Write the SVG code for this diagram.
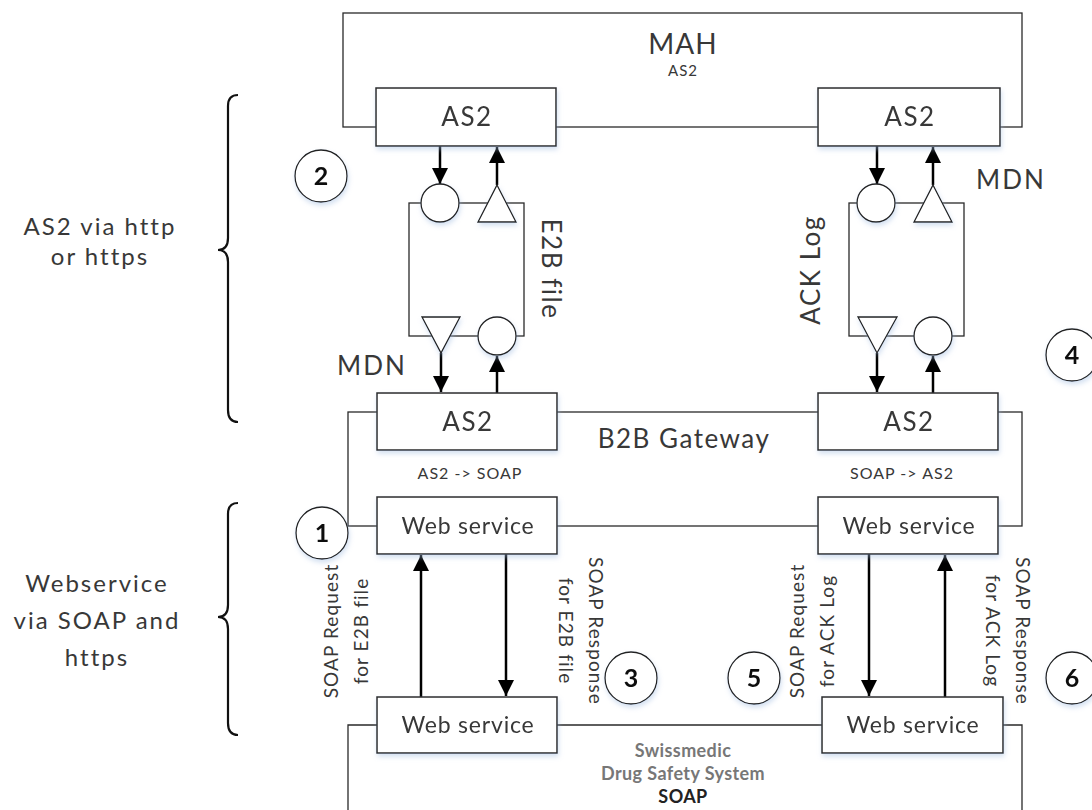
<svg xmlns="http://www.w3.org/2000/svg" width="1092" height="810" viewBox="0 0 1092 810">
<style>
.frame{fill:none;stroke:#2a2a2a;stroke-width:1.3}
.box{fill:#fff;stroke:#2a2a2a;stroke-width:1.5}
.shape{fill:#fff;stroke:#222;stroke-width:1.3}
.num{fill:#fff;stroke:#222;stroke-width:1.3}
.arr{fill:none;stroke:#000;stroke-width:2.5}
.brace{fill:none;stroke:#111;stroke-width:2.2}
text{font-family:Lato,"Open Sans","DejaVu Sans",sans-serif;fill:#383838}
.big{font-size:26px;letter-spacing:1.5px}
.side{font-size:24px;letter-spacing:2px}
.ws{font-size:23px;letter-spacing:0.8px}
.rot{font-size:19px;letter-spacing:1.1px}
.small{font-size:16px;letter-spacing:1px}
.numt{font-size:25px;font-weight:bold;fill:#111}
.sw{font-size:18px;font-weight:bold;fill:#777;letter-spacing:0.4px}
</style>
<defs>
<marker id="ah" markerUnits="userSpaceOnUse" markerWidth="16" markerHeight="18" viewBox="0 0 16 18" refX="16" refY="8" orient="auto">
<path d="M0,0 L16,8 L0,16 Z" fill="#000"/>
</marker>
<filter id="sh" x="-20%" y="-20%" width="140%" height="150%">
<feDropShadow dx="1" dy="3" stdDeviation="2.5" flood-color="#9fbbe0" flood-opacity="0.45"/>
</filter>
</defs>

<g id="frames">
<rect class="frame" x="343" y="13" width="679" height="114"/>
<rect class="frame" x="348" y="412" width="674" height="114"/>
<path class="frame" d="M348,812 V725 H1022 V812"/>
</g>

<g id="mah-label">
<text x="683" y="54" text-anchor="middle" style="font-size:28px;letter-spacing:1px">MAH</text>
<text class="small" x="683" y="76" text-anchor="middle" style="font-size:15px">AS2</text>
</g>

<g id="loops">
<rect class="frame" x="409" y="203" width="115" height="133"/>
<rect class="frame" x="849" y="203" width="115" height="133"/>
</g>

<g id="connectors">
<line class="arr" x1="440" y1="146" x2="440" y2="184" marker-end="url(#ah)"/>
<line class="arr" x1="497" y1="185" x2="497" y2="147" marker-end="url(#ah)"/>
<line class="arr" x1="441" y1="353" x2="441" y2="392" marker-end="url(#ah)"/>
<line class="arr" x1="497" y1="393" x2="497" y2="356" marker-end="url(#ah)"/>
<line class="arr" x1="877" y1="146" x2="877" y2="184" marker-end="url(#ah)"/>
<line class="arr" x1="933" y1="185" x2="933" y2="147" marker-end="url(#ah)"/>
<line class="arr" x1="877" y1="353" x2="877" y2="392" marker-end="url(#ah)"/>
<line class="arr" x1="933" y1="393" x2="933" y2="356" marker-end="url(#ah)"/>
<line class="arr" x1="421" y1="697" x2="421" y2="555" marker-end="url(#ah)"/>
<line class="arr" x1="506" y1="554" x2="506" y2="696" marker-end="url(#ah)"/>
<line class="arr" x1="869" y1="554" x2="869" y2="696" marker-end="url(#ah)"/>
<line class="arr" x1="945" y1="697" x2="945" y2="555" marker-end="url(#ah)"/>
</g>

<g id="loop-shapes" filter="url(#sh)">
<circle class="shape" cx="440" cy="203" r="19"/>
<path class="shape" d="M497,185 L516,222 L478,222 Z"/>
<path class="shape" d="M422,317 L460,317 L441,353 Z"/>
<circle class="shape" cx="497" cy="336" r="19"/>
<circle class="shape" cx="876" cy="203" r="19"/>
<path class="shape" d="M933,185 L952,222 L914,222 Z"/>
<path class="shape" d="M858,317 L897,317 L877,353 Z"/>
<circle class="shape" cx="933" cy="336" r="19"/>
</g>

<g id="as2-mah-left" filter="url(#sh)">
<rect class="box" x="376" y="88" width="180" height="58"/>
<text class="big" x="467" y="126" text-anchor="middle">AS2</text>
</g>
<g id="as2-mah-right" filter="url(#sh)">
<rect class="box" x="818" y="88" width="182" height="58"/>
<text class="big" x="910" y="126" text-anchor="middle">AS2</text>
</g>
<g id="as2-gw-left" filter="url(#sh)">
<rect class="box" x="377" y="393" width="180" height="57"/>
<text class="big" x="468" y="431" text-anchor="middle">AS2</text>
</g>
<g id="as2-gw-right" filter="url(#sh)">
<rect class="box" x="818" y="393" width="180" height="57"/>
<text class="big" x="909" y="431" text-anchor="middle">AS2</text>
</g>
<g id="ws-gw-left" filter="url(#sh)">
<rect class="box" x="377" y="497" width="180" height="57"/>
<text class="ws" x="468" y="534" text-anchor="middle">Web service</text>
</g>
<g id="ws-gw-right" filter="url(#sh)">
<rect class="box" x="818" y="497" width="180" height="57"/>
<text class="ws" x="909" y="534" text-anchor="middle">Web service</text>
</g>
<g id="ws-sm-left" filter="url(#sh)">
<rect class="box" x="377" y="697" width="180" height="56"/>
<text class="ws" x="468" y="733" text-anchor="middle">Web service</text>
</g>
<g id="ws-sm-right" filter="url(#sh)">
<rect class="box" x="822" y="697" width="181" height="56"/>
<text class="ws" x="913" y="733" text-anchor="middle">Web service</text>
</g>

<g id="labels">
<text class="big" x="684" y="448" text-anchor="middle">B2B Gateway</text>
<text class="small" x="470" y="479" text-anchor="middle">AS2 -&gt; SOAP</text>
<text class="small" x="902" y="479" text-anchor="middle">SOAP -&gt; AS2</text>
<text class="big" x="372" y="375" text-anchor="middle" style="letter-spacing:2px">MDN</text>
<text class="big" x="1011" y="189" text-anchor="middle" style="letter-spacing:2px">MDN</text>
<text class="big" transform="translate(552,269) rotate(90)" text-anchor="middle" dominant-baseline="central">E2B file</text>
<text class="big" transform="translate(810,270) rotate(-90)" text-anchor="middle" dominant-baseline="central">ACK Log</text>
<g transform="translate(347,631) rotate(-90)">
<text class="rot" x="0" y="-9" text-anchor="middle">SOAP Request</text>
<text class="rot" x="0" y="21" text-anchor="middle">for E2B file</text>
</g>
<g transform="translate(580,631) rotate(90)">
<text class="rot" x="0" y="-9" text-anchor="middle">SOAP Response</text>
<text class="rot" x="0" y="21" text-anchor="middle">for E2B file</text>
</g>
<g transform="translate(813,631) rotate(-90)">
<text class="rot" x="0" y="-9" text-anchor="middle">SOAP Request</text>
<text class="rot" x="0" y="21" text-anchor="middle">for ACK Log</text>
</g>
<g transform="translate(1007,631) rotate(90)">
<text class="rot" x="0" y="-9" text-anchor="middle">SOAP Response</text>
<text class="rot" x="0" y="21" text-anchor="middle">for ACK Log</text>
</g>
<text class="sw" x="683" y="757" text-anchor="middle">Swissmedic</text>
<text class="sw" x="683" y="780" text-anchor="middle">Drug Safety System</text>
<text class="sw" x="683" y="803" text-anchor="middle" style="fill:#222">SOAP</text>
</g>

<g id="braces">
<path class="brace" d="M238,95 Q228,95 228,106 V238 Q228,250 218,250 Q228,250 228,262 V410 Q228,422 238,422"/>
<path class="brace" d="M238,503 Q228,503 228,514 V605 Q228,617 218,617 Q228,617 228,629 V723 Q228,735 238,735"/>
<text class="side" x="100" y="235" text-anchor="middle">AS2 via http</text>
<text class="side" x="100" y="265" text-anchor="middle">or https</text>
<text class="side" x="97" y="592" text-anchor="middle">Webservice</text>
<text class="side" x="97" y="629" text-anchor="middle">via SOAP and</text>
<text class="side" x="97" y="666" text-anchor="middle">https</text>
</g>

<g id="step-1" filter="url(#sh)"><circle class="num" cx="322" cy="533" r="26"/><text class="numt" x="322" y="542" text-anchor="middle">1</text></g>
<g id="step-2" filter="url(#sh)"><circle class="num" cx="321" cy="176" r="26"/><text class="numt" x="321" y="185" text-anchor="middle">2</text></g>
<g id="step-3" filter="url(#sh)"><circle class="num" cx="631" cy="678" r="26"/><text class="numt" x="631" y="687" text-anchor="middle">3</text></g>
<g id="step-4" filter="url(#sh)"><circle class="num" cx="1072" cy="355" r="26"/><text class="numt" x="1072" y="364" text-anchor="middle">4</text></g>
<g id="step-5" filter="url(#sh)"><circle class="num" cx="754" cy="678" r="26"/><text class="numt" x="754" y="687" text-anchor="middle">5</text></g>
<g id="step-6" filter="url(#sh)"><circle class="num" cx="1072" cy="678" r="26"/><text class="numt" x="1072" y="687" text-anchor="middle">6</text></g>
</svg>
